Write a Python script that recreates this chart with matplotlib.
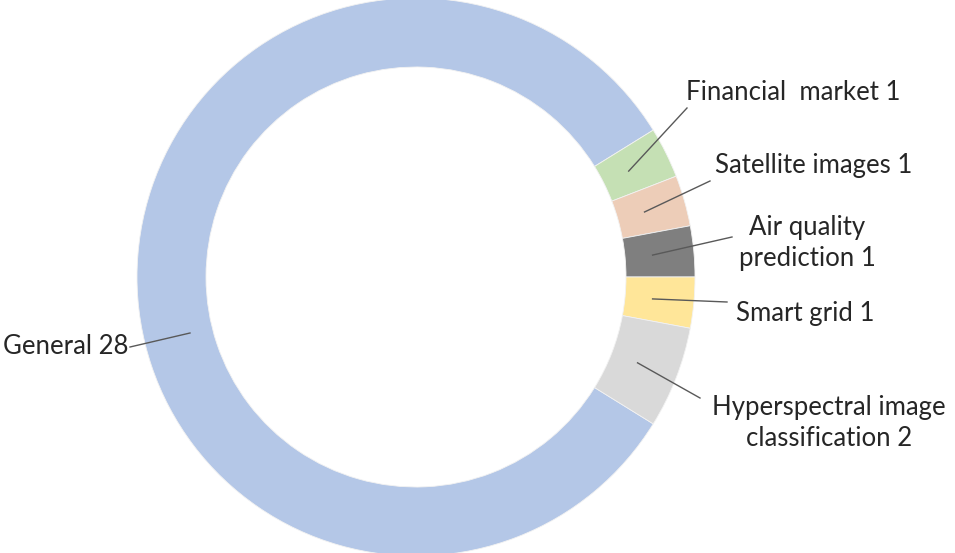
import numpy as np
import matplotlib
matplotlib.use("Agg")
import matplotlib.pyplot as plt

plt.rcParams['font.family'] = ['Lato', 'DejaVu Sans']

# data
labels = ['General 28', 'Financial  market 1', 'Satellite images 1',
          'Air quality\nprediction 1', 'Smart grid 1',
          'Hyperspectral image\nclassification 2']
counts = [28, 1, 1, 1, 1, 2]
colors = ['#B4C7E7', '#C5E0B4', '#EDCDB8', '#7F7F7F', '#FFE699', '#D9D9D9']

W, H = 955, 553
fig = plt.figure(figsize=(W / 100, H / 100), dpi=100)
ax = fig.add_axes([0, 0, 1, 1])

cx, cy, r, ring = 416, 276, 279, 69
# start so that the small slices sit symmetric about the horizontal axis
start = -360 * 3 / sum(counts)
wedges, _ = ax.pie(counts, colors=colors, startangle=start, counterclock=False,
                   radius=r, center=(cx, cy), frame=True,
                   wedgeprops=dict(width=ring, edgecolor='#f2f2f2', linewidth=0.6))
ax.set_xlim(0, W)
ax.set_ylim(0, H)
ax.set_aspect('equal')
ax.axis('off')

# leader lines and label placement (pixels, y from the top)
line_end = [(130, 347), (687, 108), (710, 181), (732, 237), (727, 302), (700, 398)]
text_pos = [(128, 347, 'right'), (686, 93, 'left'), (715, 166, 'left'),
            (807, 243, 'center'), (736, 313, 'left'), (829, 423, 'center')]

for i, (w, lab, (x1, y1), (tx, ty, ha)) in enumerate(zip(wedges, labels, line_end, text_pos)):
    if i == 0:
        x0, y0 = 190, H - 333   # General leader starts lower-left on the ring
    else:
        mid = np.deg2rad((w.theta1 + w.theta2) / 2)
        rr = r - ring * 0.6
        x0, y0 = cx + rr * np.cos(mid), cy + rr * np.sin(mid)
    ax.plot([x0, x1], [y0, H - y1], color='#595959', lw=1.0)
    ax.text(tx, H - ty, lab, ha=ha, va='center', fontsize=18.5, color='#262626',
            linespacing=1.3)

fig.savefig('out.png', dpi=100)
